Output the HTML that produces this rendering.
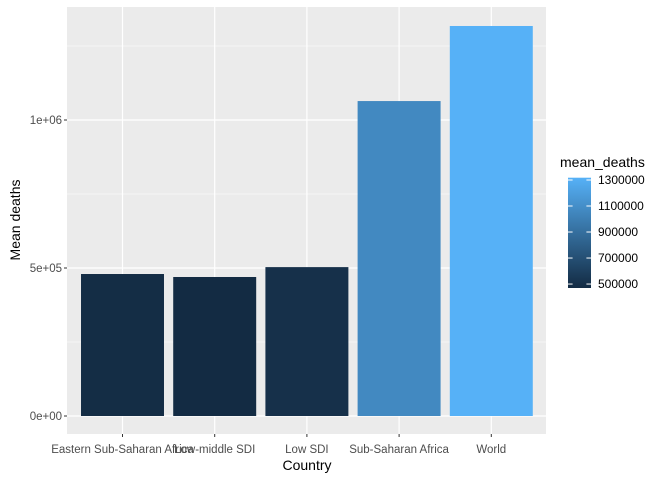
<!DOCTYPE html>
<html><head><meta charset="utf-8"><style>
body{margin:0;background:#fff;width:672px;height:480px;overflow:hidden}
text{font-family:"Liberation Sans",Arial,sans-serif}
</style></head><body>
<svg id="chart" width="672" height="480" xmlns="http://www.w3.org/2000/svg">
<defs><linearGradient id="grad" x1="0" y1="1" x2="0" y2="0">
<stop offset="0" stop-color="#132B43"/><stop offset="1" stop-color="#56B1F7"/></linearGradient></defs>
<rect x="67" y="7" width="479" height="427" fill="#EBEBEB"/>
<g id="grid"></g><g id="bars"></g><g id="axes"></g>
<text x="307" y="470" font-size="14" text-anchor="middle" fill="#000">Country</text>
<text transform="translate(20,220) rotate(-90)" font-size="14" text-anchor="middle" fill="#000">Mean deaths</text>
<g id="legend">
<text x="560" y="167" font-size="14" fill="#000">mean_deaths</text>
</g>
</svg>
<script>
const categories=["Eastern Sub-Saharan Africa","Low-middle SDI","Low SDI","Sub-Saharan Africa","World"];
const meanDeaths=[479700,469600,503000,1064000,1317600];
const yTicks=[0,500000,1000000];
const yTickLabels=["0e+00","5e+05","1e+06"];
const legendTicks=[500000,700000,900000,1100000,1300000];

const NS="http://www.w3.org/2000/svg";
const px0=67,px1=546,py0=7,py1=434;
const step=92.2, xc=i=>122.5+i*step;
const y=v=>416-v*296/1e6;
const vmin=Math.min(...meanDeaths),vmax=Math.max(...meanDeaths);
function lerp(a,b,t){return Math.round(a+(b-a)*t)}
function col(v){const t=(v-vmin)/(vmax-vmin);
 return `rgb(${lerp(0x13,0x56,t)},${lerp(0x2B,0xB1,t)},${lerp(0x43,0xF7,t)})`;}
function mk(tag,attrs,parent){const e=document.createElementNS(NS,tag);for(const k in attrs)e.setAttribute(k,attrs[k]);parent.appendChild(e);return e;}
const grid=document.getElementById('grid'),bars=document.getElementById('bars'),axes=document.getElementById('axes'),leg=document.getElementById('legend');
for(let i=0;i<yTicks.length;i++){
 const m=yTicks[i]+250000;
 const l=mk('line',{x1:px0,x2:px1,y1:y(m),y2:y(m),stroke:'#fff','stroke-width':0.6},grid);
 
 
}
yTicks.forEach((v,i)=>{
 const l=mk('line',{x1:px0,x2:px1,y1:y(v),y2:y(v),stroke:'#fff','stroke-width':1.2},grid);
 
 
 const t=mk('line',{x1:px0-3,x2:px0,y1:y(v),y2:y(v),stroke:'#333','stroke-width':1},axes);
 
 
 const tx=mk('text',{x:px0-5,y:y(v)+4,'font-size':11.5,'text-anchor':'end',fill:'#4D4D4D'},axes);
 tx.textContent=yTickLabels[i];
 
 
});
categories.forEach((c,i)=>{
 const l=mk('line',{x1:xc(i),x2:xc(i),y1:py0,y2:py1,stroke:'#fff','stroke-width':1.2},grid);
 
 
 const w=step*0.9;
 const b=mk('rect',{x:xc(i)-w/2,y:y(meanDeaths[i]),width:w,height:y(0)-y(meanDeaths[i]),fill:col(meanDeaths[i])},bars);
 
 
 const t=mk('line',{x1:xc(i),x2:xc(i),y1:py1,y2:py1+3,stroke:'#333','stroke-width':1},axes);
 
 
 const tx=mk('text',{x:xc(i),y:py1+19,'font-size':11.5,'text-anchor':'middle',fill:'#4D4D4D'},axes);
 tx.textContent=c;
 
 
});
const cbTop=177.7,cbBot=288,cbx=568,cbw=23;
const ly=v=>cbBot-(v-vmin)/(vmax-vmin)*(cbBot-cbTop);
const bar=mk('rect',{x:cbx,y:cbTop,width:cbw,height:cbBot-cbTop,fill:'url(#grad)'},leg);


legendTicks.forEach(v=>{
 [[cbx,cbx+4.6],[cbx+cbw-4.6,cbx+cbw]].forEach(p=>{
  const l=mk('line',{x1:p[0],x2:p[1],y1:ly(v),y2:ly(v),stroke:'#fff','stroke-width':1},leg);
  
  
 });
 const tx=mk('text',{x:598,y:ly(v)+4,'font-size':12,fill:'#000'},leg);
 tx.textContent=String(v);
 
 
});
</script>
</body></html>
